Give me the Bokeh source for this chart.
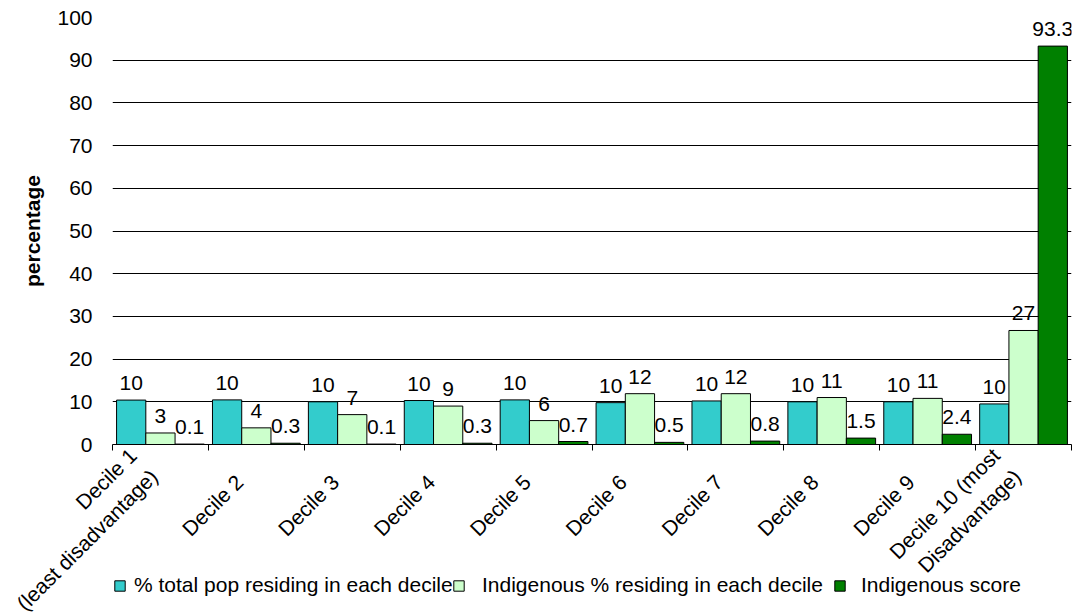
import numpy as np
from bokeh.plotting import figure
from bokeh.layouts import column
from bokeh.models import (ColumnDataSource, Range1d, FixedTicker, LabelSet,
                          Legend, LegendItem)
from bokeh.core.properties import value
from bokeh.transform import dodge
from bokeh.embed import file_html
from bokeh.resources import INLINE

# ---- data -------------------------------------------------------------
categories = [
    "Decile 1\n(least disadvantage)", "Decile 2", "Decile 3", "Decile 4",
    "Decile 5", "Decile 6", "Decile 7", "Decile 8", "Decile 9",
    "Decile 10 (most\nDisadvantage)",
]
total_pop_pct = [10.4, 10.45, 10.0, 10.3, 10.45, 9.8, 10.2, 10.0, 10.0, 9.5]
indigenous_pct = [2.7, 3.9, 7.0, 9.0, 5.6, 11.9, 11.9, 11.0, 10.8, 26.7]
indigenous_score = [0.1, 0.3, 0.1, 0.3, 0.7, 0.5, 0.8, 1.5, 2.4, 93.3]
series_names = [
    "% total pop residing in each decile",
    "Indigenous % residing in each decile",
    "Indigenous score",
]
y_ticks = list(range(0, 101, 10))

# ---- layout constants (pixels) ---------------------------------------
FONT = "Liberation Sans"
W, H = 1078, 614
LEFT, RIGHT, TOP, BOTTOM = 112, 7, 17, 170
FRAME_W = W - LEFT - RIGHT
OVERLAP = 20  # footer reaches this far above the x axis

n = len(categories)
centers = np.arange(n) + 0.5
colors = ["#33CCCC", "#CCFFCC", "#008000"]

# ---- main chart -------------------------------------------------------
p = figure(width=W, height=H, x_range=Range1d(0, n), y_range=Range1d(0, 100),
           output_backend="svg", toolbar_location=None,
           min_border_left=LEFT, min_border_right=RIGHT, min_border_top=TOP,
           min_border_bottom=BOTTOM)
p.frame_align = False
p.outline_line_color = None
p.background_fill_color = "white"
p.border_fill_color = "white"

p.yaxis.ticker = FixedTicker(ticks=y_ticks)
p.yaxis.axis_line_color = None
p.yaxis.major_tick_line_color = None
p.yaxis.minor_tick_line_color = None
p.yaxis.major_tick_in = 0
p.yaxis.major_tick_out = 0
p.yaxis.major_label_text_font = FONT
p.yaxis.major_label_text_font_size = "21px"
p.yaxis.major_label_text_color = "black"
p.yaxis.major_label_standoff = 20
p.yaxis.axis_label = "percentage"
p.yaxis.axis_label_text_font = FONT
p.yaxis.axis_label_text_font_size = "21px"
p.yaxis.axis_label_text_font_style = "bold"
p.yaxis.axis_label_text_color = "black"
p.yaxis.axis_label_standoff = 10
p.ygrid.ticker = FixedTicker(ticks=y_ticks)
p.ygrid.grid_line_color = "black"
p.ygrid.grid_line_width = 1
p.xgrid.grid_line_color = None

# x axis: small ticks between the deciles
p.xaxis.ticker = FixedTicker(ticks=[], minor_ticks=list(range(n + 1)))
p.xaxis.axis_line_color = "black"
p.xaxis.major_tick_line_color = None
p.xaxis.major_tick_out = 0
p.xaxis.minor_tick_line_color = "black"
p.xaxis.minor_tick_in = 0
p.xaxis.minor_tick_out = 6
p.xaxis.major_label_standoff = 0
p.xaxis.major_label_text_font_size = "0px"

src = ColumnDataSource(dict(
    x=centers,
    total=total_pop_pct,
    indig=indigenous_pct,
    score=indigenous_score,
    total_lbl=[f"{v:.0f}" for v in total_pop_pct],
    indig_lbl=[f"{v:.0f}" for v in indigenous_pct],
    score_lbl=[f"{v:.1f}" for v in indigenous_score],
))

bar_w = 0.305
specs = [("total", -bar_w), ("indig", 0.0), ("score", bar_w)]
for (col, off), color in zip(specs, colors):
    p.vbar(x=dodge("x", off), top=col, width=bar_w, source=src,
           fill_color=color, line_color="black", line_width=1)
    p.add_layout(LabelSet(x=dodge("x", off), y=col, text=col + "_lbl", source=src,
                          text_align="center", text_baseline="alphabetic",
                          y_offset=10, text_font=value(FONT), text_font_size="21px",
                          text_color="black"))

# ---- transparent footer laid over the bottom border -------------------
# x mapped exactly like the main frame; y counts pixels down from the axis
unit = FRAME_W / n
foot_h = BOTTOM + OVERLAP
foot = figure(width=W, height=foot_h,
              x_range=Range1d(-LEFT / unit, (W - LEFT) / unit),
              y_range=Range1d(BOTTOM, -OVERLAP),
              output_backend="svg", toolbar_location=None,
              x_axis_location=None, y_axis_location=None,
              min_border=0, margin=(-foot_h, 0, 0, 0))
foot.frame_align = False
foot.outline_line_color = None
foot.grid.grid_line_color = None
foot.background_fill_color = None
foot.border_fill_color = None

n_lines = [c.count("\n") + 1 for c in categories]
cat_src = ColumnDataSource(dict(
    x=centers, text=categories,
    y=[34 if k == 1 else 18 for k in n_lines],
    xo=[-17 if k == 1 else -17 for k in n_lines],
))
foot.text(x="x", y="y", text="text", source=cat_src, x_offset="xo",
          angle=np.pi / 4, text_align="right", text_baseline="middle",
          text_line_height=1.3, text_font=value(FONT),
          text_font_size="21px", text_color="black")

# legend swatches come from stand-in bars with no visible height
legend_x = [113, 452, 833]
standoffs = [8, 17, 15]
for name, color, lx, so in zip(series_names, colors, legend_x, standoffs):
    swatch = foot.vbar(x=[n / 2], top=[float("nan")], width=0.3,
                       fill_color=color, line_color="black", line_width=1)
    leg = Legend(items=[LegendItem(label=name, renderers=[swatch])],
                 location=(lx, 17), orientation="horizontal",
                 border_line_color=None, background_fill_alpha=0,
                 padding=0, margin=0, glyph_width=13, glyph_height=13,
                 label_standoff=so, label_text_font=FONT,
                 label_text_font_size="21px", label_text_color="black")
    foot.add_layout(leg, "center")

layout = column(p, foot, spacing=0)
open("out.html", "w").write(file_html(layout, INLINE))
